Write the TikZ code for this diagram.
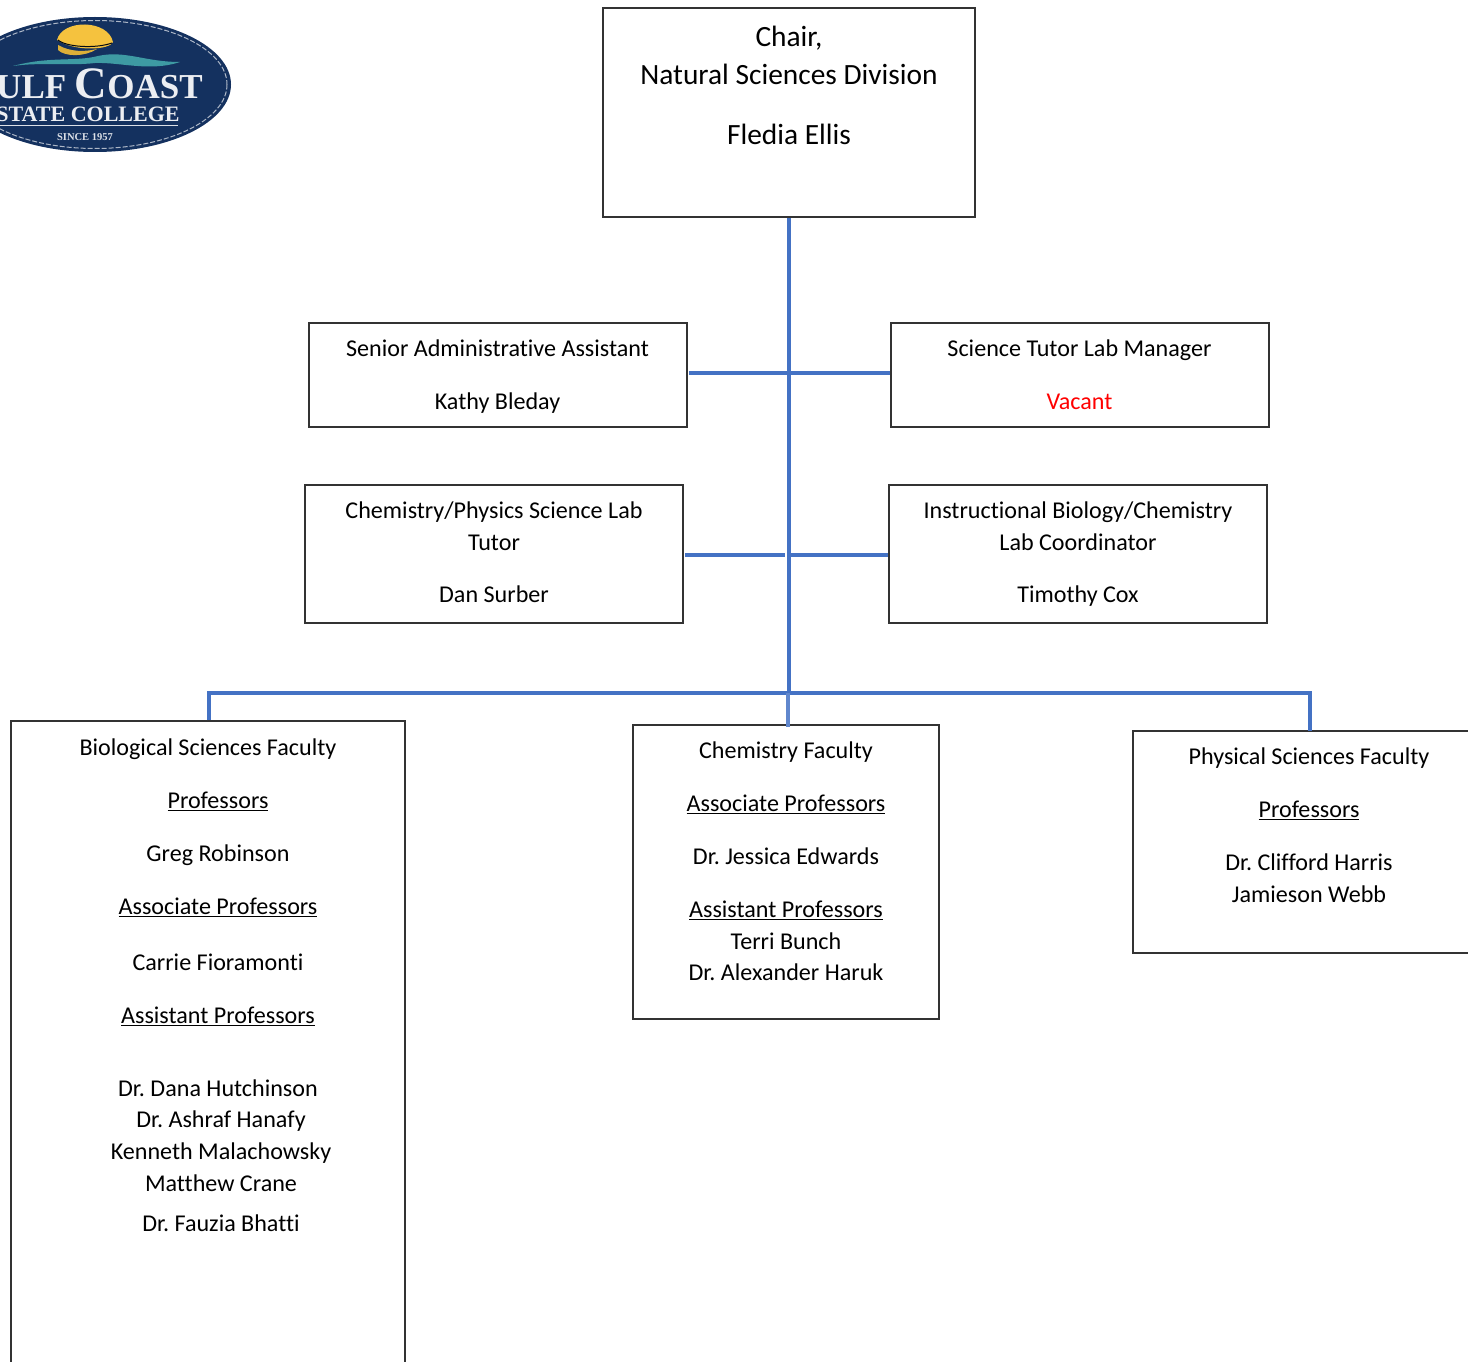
\documentclass[tikz,border=0pt]{standalone}
\usepackage{fontspec}
\usetikzlibrary{shapes.geometric}
\setmainfont[Ligatures=CommonOff]{Carlito}
\newfontfamily\logofont{Liberation Serif}
\frenchspacing
\definecolor{linkblue}{HTML}{4472C4}
\definecolor{boxline}{HTML}{333333}
\definecolor{navy}{HTML}{14315F}
\definecolor{sunny}{HTML}{F5C23E}
\definecolor{wave}{HTML}{3E9AA3}
\tikzset{
  x=1pt,y=-1pt,
  orgbox/.style={draw=boxline,line width=1.5pt,rectangle,inner sep=0pt},
  tline/.style={anchor=base,inner sep=0pt,yshift=-0.4pt,font=\fontsize{24.1pt}{26pt}\selectfont},
  bigline/.style={anchor=base,inner sep=0pt,yshift=-1pt,font=\fontsize{29.4pt}{30pt}\selectfont},
  link/.style={draw=linkblue,line width=4pt},
}
\newcommand{\bx}[5]{\node[orgbox,anchor=north west,minimum width=#4pt-#2pt,minimum height=#5pt-#3pt] (#1) at (#2-1.3,#3-0.6) {};}
\begin{document}
\begin{tikzpicture}
\useasboundingbox (0,0) rectangle (1468,1362);
\clip (0,0) rectangle (1468,1362);
% logo
\begin{scope}
  \node[ellipse,fill=navy,minimum width=272pt,minimum height=135pt,inner sep=0pt] (logo) at (95,84.5) {};
  \draw[white!65!navy,line width=1pt,dash pattern=on 5pt off 2pt] (95,84.5) ellipse [x radius=132,y radius=64];
  \fill[sunny] (57,40) .. controls (62,19) and (108,19) .. (113,42) .. controls (110,50) and (75,52) .. (57,40) -- cycle;
  \fill[sunny!90!black] (58,45) .. controls (70,52) and (85,52) .. (97,49) .. controls (85,57) and (65,57) .. (58,50) -- cycle;
  \draw[black!80!navy,line width=1pt] (58,40) .. controls (66,47) and (95,49) .. (112,43);
  \fill[wave] (13,66) .. controls (50,56) and (75,62) .. (98,56) .. controls (125,50) and (145,62) .. (180,62) .. controls (150,72) and (120,62) .. (95,63) .. controls (70,66) and (40,62) .. (13,66) -- cycle;
  \node[anchor=base east,inner sep=0pt,text=white!92!navy,font=\logofont\bfseries\fontsize{35pt}{36pt}\selectfont] (logoa) at (203,99) {ULF {\fontsize{45pt}{36pt}\selectfont C}OAST};
  \node[anchor=base,inner sep=0pt,text=white!92!navy,font=\logofont\bfseries\fontsize{22pt}{22pt}\selectfont] (logob) at (88,122) {STATE COLLEGE};
  \draw[white!85!navy,line width=.8pt] (0,125.5) -- (178,125.5);
  \node[anchor=base,inner sep=0pt,text=white!85!navy,font=\logofont\bfseries\fontsize{10.5pt}{10pt}\selectfont] (logoc) at (85,141) {SINCE 1957};
\end{scope}
% boxes
\bx{chair}{603.5}{8}{975.5}{217}
\bx{admin}{309.5}{323}{687.5}{427}
\bx{mgr}{891.5}{323}{1269.5}{427}
\bx{tutor}{305.5}{485}{683.5}{623}
\bx{coord}{889.5}{485}{1267.5}{623}
\bx{bio}{11.5}{721}{405.5}{1420}
\bx{chem}{633.5}{725}{939.5}{1019}
\bx{phys}{1133.5}{731}{1500}{953}
% connectors
\coordinate (hub) at (chair.south |- 0,692.6);
\coordinate (physdrop) at (1309.5,731);
\coordinate (chemdrop) at (788.2,727);
\coordinate (adminend) at (689,373);
\coordinate (mgrend) at (890,373);
\coordinate (tutend) at (685,555);
\coordinate (tutmid) at (785,555);
\coordinate (coordmid) at (790,555);
\coordinate (coordend) at (888,555);
\draw[link] (chair.south) -- (hub);
\draw[link] (adminend) -- (mgrend);
\draw[link] (tutend) -- (tutmid);
\draw[link] (coordmid) -- (coordend);
\draw[link,line cap=butt] (bio.north -| 209,0) -- (209,692.6) -- (1309.5,692.6) -- (physdrop);
\draw[draw=linkblue!85,line width=3.6pt] (hub -| chemdrop) -- (chemdrop);
% texts
\node[bigline] (c1) at (789,46) {Chair,};
\node[bigline] (c2) at (789,84) {Natural Sciences Division};
\node[bigline] (c3) at (789,144) {Fledia Ellis};
\node[tline] (a1) at (497.5,356.5) {Senior Administrative Assistant};
\node[tline] (a2) at (497.5,409) {Kathy Bleday};
\node[tline] (m1) at (1079.5,356.5) {Science Tutor Lab Manager};
\node[tline,text=red] (m2) at (1079.5,409) {Vacant};
\node[tline] (t1) at (494,518.5) {Chemistry/Physics Science Lab};
\node[tline] (t2) at (494,550) {Tutor};
\node[tline] (t3) at (494,602.5) {Dan Surber};
\node[tline] (i1) at (1078,518.5) {Instructional Biology/Chemistry};
\node[tline] (i2) at (1078,550) {Lab Coordinator};
\node[tline] (i3) at (1078,602.5) {Timothy Cox};
\node[tline] (b1) at (208,755.5) {Biological Sciences Faculty};
\node[tline] (b2) at (218,808.5) {\underline{Professors}};
\node[tline] (b3) at (218,861.5) {Greg Robinson};
\node[tline] (b4) at (218,914.5) {\underline{Associate Professors}};
\node[tline] (b5) at (218,970.5) {Carrie Fioramonti};
\node[tline] (b6) at (218,1023.5) {\underline{Assistant Professors}};
\node[tline] (b7) at (218,1096.5) {Dr. Dana Hutchinson};
\node[tline] (b8) at (221,1127.5) {Dr. Ashraf Hanafy};
\node[tline] (b9) at (221,1159.5) {Kenneth Malachowsky};
\node[tline] (b10) at (221,1191) {Matthew Crane};
\node[tline] (b11) at (221,1231.5) {Dr. Fauzia Bhatti};
\node[tline] (h1) at (786,758.5) {Chemistry Faculty};
\node[tline] (h2) at (786,811.5) {\underline{Associate Professors}};
\node[tline] (h3) at (786,864.5) {Dr. Jessica Edwards};
\node[tline] (h4) at (786,917.5) {\underline{Assistant Professors}};
\node[tline] (h5) at (786,949) {Terri Bunch};
\node[tline] (h6) at (786,980.5) {Dr. Alexander Haruk};
\node[tline] (p1) at (1309,764.5) {Physical Sciences Faculty};
\node[tline] (p2) at (1309,817.5) {\underline{Professors}};
\node[tline] (p3) at (1309,870.5) {Dr. Clifford Harris};
\node[tline] (p4) at (1309,902) {Jamieson Webb};
\end{tikzpicture}
\end{document}
